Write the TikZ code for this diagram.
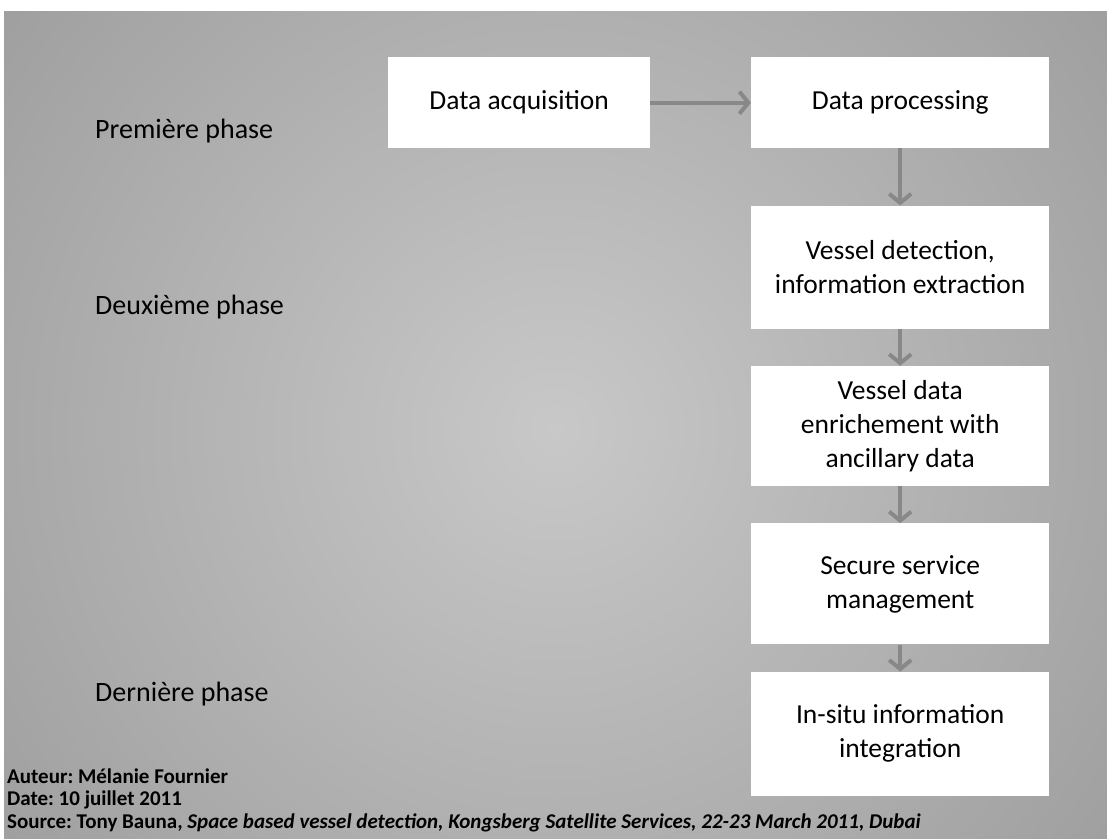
\documentclass[tikz,border=0pt]{standalone}
\usepackage{fontspec}
\setmainfont{Carlito}
\usetikzlibrary{arrows.meta,positioning}

\definecolor{bginner}{RGB}{200,200,200}
\definecolor{bgouter}{RGB}{118,118,118}
\definecolor{arrgray}{RGB}{136,136,136}

\frenchspacing
\begin{document}
\begin{tikzpicture}[
  x=1pt, y=-1pt,
  box/.style={fill=white, minimum width=298pt, align=center, inner sep=0pt, font=\fontsize{27.5}{34}\selectfont},
  phase/.style={anchor=west, inner sep=0pt, font=\fontsize{28}{32}\selectfont},
  note/.style={anchor=west, inner sep=0pt, font=\bfseries\fontsize{21}{23}\selectfont},
  arr/.style={-{Straight Barb[length=9pt,width=22pt]}, line width=4pt, draw=arrgray}
]
% background
\useasboundingbox (0,0) rectangle (1107,838);
\fill[white] (0,0) rectangle (1107,838);
\begin{scope}
  \clip (4,11) rectangle (1107,838);
  \shade[inner color=bginner, outer color=bgouter] (555,430) circle (1400pt);
\end{scope}

% chain of steps
\node[box, minimum width=262pt, minimum height=91pt, anchor=north west] (acq) at (388,57) {Data acquisition};
\node[box, minimum height=91pt, anchor=north west] (proc) at (751,57) {Data processing};
\node[box, minimum height=123pt, below=57pt of proc] (detect) {Vessel detection,\\information extraction};
\node[box, minimum height=120pt, below=37pt of detect] (enrich) {Vessel data\\enrichement with\\ancillary data};
\node[box, minimum height=121pt, below=37pt of enrich] (secure) {Secure service\\management};
\node[box, minimum height=124pt, below=27pt of secure] (insitu) {In-situ information\\integration};

% phases
\node[phase] (ph1) at (95,131) {Première phase};
\node[phase] (ph2) at (95,307) {Deuxième phase};
\node[phase] (ph3) at (95,694) {Dernière phase};

% credits
\node[note] (auteur) at (7,776) {Auteur: Mélanie Fournier};
\node[note] (date) at (7,800) {Date: 10 juillet 2011};
\node[note] (source) at (7,823) {Source: Tony Bauna, \textit{Space based vessel detection, Kongsberg Satellite Services, 22-23 March 2011, Dubai}};

\draw[arr] (acq) -- (proc);
\draw[arr] (proc) -- (detect);
\draw[arr] (detect) -- (enrich);
\draw[arr] (enrich) -- (secure);
\draw[arr] (secure) -- (insitu);
\end{tikzpicture}
\end{document}
